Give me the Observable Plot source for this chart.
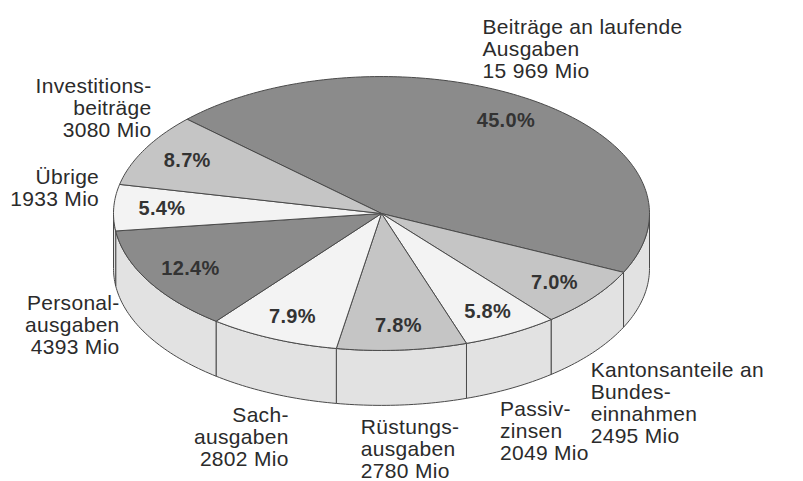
<!DOCTYPE html>
<html>
<head>
<meta charset="utf-8">
<script src="https://cdn.jsdelivr.net/npm/d3@7"></script>
<script src="https://cdn.jsdelivr.net/npm/@observablehq/plot@0.6"></script>
<style>
  html, body { margin: 0; padding: 0; background: #ffffff; }
  #chart svg { display: block; }
</style>
</head>
<body>
<div id="chart"></div>
<script>
// ---- data ----
const names = [
  "Beiträge an laufende\nAusgaben",
  "Kantonsanteile an\nBundes-\neinnahmen",
  "Passiv-\nzinsen",
  "Rüstungs-\nausgaben",
  "Sach-\nausgaben",
  "Personal-\nausgaben",
  "Übrige",
  "Investitions-\nbeiträge"
];
const values = [15969, 2495, 2049, 2780, 2802, 4393, 1933, 3080];
const unit = "Mio";

// ---- styles ----
const shades = ["#8b8b8b", "#c5c5c5", "#f3f3f3", "#c5c5c5", "#f3f3f3", "#8b8b8b", "#f3f3f3", "#c5c5c5"];
const wallColor = "#e2e2e2";
const edgeColor = "#4a4a4a";
const textColor = "#2b2b2b";

// ---- geometry of the tilted pie (unit radius) ----
const startAngle = 223.5;  // degrees, clockwise on screen
const tilt = 0.511;        // vertical squash of the top ellipse
const depth = 0.205;       // height of the side wall
const total = d3.sum(values);
const rad = d => d * Math.PI / 180;
const pt = (deg, k = 1, dz = 0) => ({x: k * Math.cos(rad(deg)), y: k * tilt * Math.sin(rad(deg)) + dz});
const arc = (a0, a1, k = 1, dz = 0) => {
  const n = Math.max(2, Math.ceil(Math.abs(a1 - a0)));
  return d3.range(n + 1).map(j => pt(a0 + (a1 - a0) * j / n, k, dz));
};

let acc = startAngle;
const slices = values.map((v, i) => {
  const a0 = acc, a1 = acc + v / total * 360;
  acc = a1;
  return {i, v, a0, a1, mid: (a0 + a1) / 2, name: names[i], fill: shades[i]};
});

// top faces
const tops = slices.map(s => {
  const c = {x: 0, y: 0};
  return [c, ...arc(s.a0, s.a1), c];
});

// visible (front) wall parts: angles 0..180 (mod 360)
const walls = [];
for (const s of slices) {
  for (const off of [0, 360]) {
    const b0 = Math.max(s.a0, off), b1 = Math.min(s.a1, off + 180);
    if (b1 > b0 + 1e-6) {
      const top = arc(b0, b1), bot = arc(b0, b1, 1, depth).reverse();
      walls.push([...top, ...bot, top[0]]);
    }
  }
}

// ---- labels ----
const fmtNum = v => v >= 10000 ? d3.format(",")(v).replace(/,/g, " ") : String(v);
const pxPerUnit = 268;
const outer = slices.map(s => {
  const c = Math.cos(rad(s.mid)), sn = Math.sin(rad(s.mid));
  const text = `${s.name}\n${fmtNum(s.v)} ${unit}`;
  const w = d3.max(text.split("\n"), l => l.length) * 10.3 / pxPerUnit;
  let px, py, anchor;
  if (sn < 0.3) {            // upper / side: above the rim
    px = (1.06 - 0.12 * Math.abs(sn)) * c; py = 1.2 * tilt * sn; anchor = "bottom";
  } else if (sn < 0.55) {    // side: beside the wall
    px = 1.15 * c; py = 1.08 * tilt * sn + depth * 0.7; anchor = "middle";
  } else {                   // front: below the wall
    px = 1.08 * c; py = 1.1 * tilt * sn + depth; anchor = "top";
  }
  const align = c >= 0 ? "start" : "end";
  const x = c >= 0 ? px - w * (1 - c) / 2 : px + w * (1 + c) / 2;
  return {x, y: py, text, anchor, align};
});

const labelMarks = [];
for (const align of ["start", "end"]) {
  for (const anchor of ["top", "middle", "bottom"]) {
    const sub = outer.filter(d => d.align === align && d.anchor === anchor);
    if (sub.length) labelMarks.push(Plot.text(sub, {
      x: "x", y: "y", text: "text", textAnchor: align, lineAnchor: anchor,
      fontSize: 21, lineHeight: 1.05, fill: textColor
    }));
  }
}

const W = 803, H = 481, cxPx = 381, cyPx = 213;
const chart = Plot.plot({
  width: W, height: H, margin: 0,
  x: {domain: [-cxPx / pxPerUnit, (W - cxPx) / pxPerUnit], range: [0, W], axis: null},
  y: {domain: [-cyPx / pxPerUnit, (H - cyPx) / pxPerUnit], range: [0, H], axis: null},
  style: {fontFamily: "'Liberation Sans', Arial, Helvetica, sans-serif", background: "#ffffff", letterSpacing: "0.3px"},
  marks: [
    ...walls.map(p => Plot.line(p, {x: "x", y: "y", fill: wallColor, stroke: edgeColor, strokeWidth: 1, strokeLinejoin: "round"})),
    ...tops.map((p, i) => Plot.line(p, {x: "x", y: "y", fill: slices[i].fill, stroke: edgeColor, strokeWidth: 1, strokeLinejoin: "round"})),
    Plot.text(slices, {
      x: d => pt(d.mid, 0.82).x, y: d => pt(d.mid, 0.82).y,
      text: d => d3.format(".1f")(d.v / total * 100) + "%",
      fontSize: 20, fontWeight: "bold", fill: "#333333"
    }),
    ...labelMarks
  ]
});
document.getElementById("chart").appendChild(chart);
</script>
</body>
</html>
